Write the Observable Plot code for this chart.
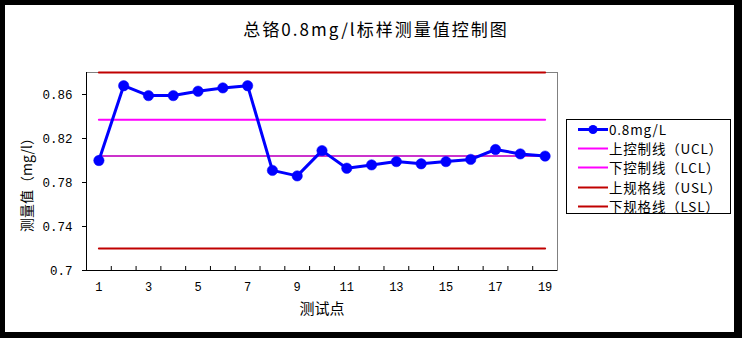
<!DOCTYPE html>
<html><head><meta charset="utf-8">
<script src="https://cdn.jsdelivr.net/npm/d3@7"></script>
<script src="https://cdn.jsdelivr.net/npm/@observablehq/plot@0.6"></script>
<style>
html,body{margin:0;padding:0;background:#000;width:742px;height:338px;overflow:hidden;font-family:"Noto Sans CJK SC",sans-serif;}
#panel{position:absolute;left:5px;top:5px;width:729px;height:327px;background:#fff;}
#title{position:absolute;left:0;top:17px;width:742px;text-align:center;font-size:17px;letter-spacing:2px;line-height:24px;color:#000;}
#title span{position:relative;left:5px;}
#chart{position:absolute;left:0;top:0;}
#legend{position:absolute;left:566px;top:119px;width:163px;height:93px;border:1px solid #000;background:#fff;font-size:13.5px;letter-spacing:0.8px;}
.row{position:absolute;left:0;height:19px;width:163px;}
.row svg{position:absolute;left:10px;top:0;}
.row span{position:absolute;left:42px;top:0;line-height:19px;white-space:nowrap;}
</style></head>
<body>
<div id="panel"></div>
<div id="chart"></div>
<div id="title"><span>总铬0.8mg/l标样测量值控制图</span></div>
<div id="legend"></div>
<script>
const points = d3.range(1, 20);
const values = [0.800, 0.868, 0.859, 0.859, 0.863, 0.866, 0.868, 0.791, 0.786, 0.809, 0.793, 0.796, 0.799, 0.797, 0.799, 0.801, 0.810, 0.806, 0.804];
const seriesName = "0.8mg/L";
const limitNames = ["上控制线（UCL）", "下控制线（LCL）", "上规格线（USL）", "下规格线（LSL）"];
const limitValues = [0.837, 0.804, 0.88, 0.72];
const limitColors = ["#ff00ff", "#cc33cc", "#c00000", "#c00000"];
const legendColors = ["#ff00ff", "#ff00ff", "#c00000", "#c00000"];
const seriesColor = "#0000ff";
const yTicks = [0.7, 0.74, 0.78, 0.82, 0.86];
const xLabels = [1, 3, 5, 7, 9, 11, 13, 15, 17, 19];
const xTickMarks = d3.range(1.5, 19.5, 1);

const data = points.map((p, i) => ({p, v: values[i]}));
const limitData = [];
limitValues.forEach((lv, i) => {
  limitData.push({p: points[0], v: lv, k: limitNames[i]});
  limitData.push({p: points[points.length - 1], v: lv, k: limitNames[i]});
});

const numFont = "'Liberation Mono', monospace";
const plot = Plot.plot({
  width: 742, height: 338,
  marginLeft: 86, marginRight: 185, marginTop: 72, marginBottom: 68,
  style: {background: "transparent", fontFamily: "'Noto Sans CJK SC', sans-serif", fontSize: "12px", color: "#000"},
  x: {type: "linear", domain: [0.5, 19.5]},
  y: {type: "linear", domain: [0.7, 0.88]},
  color: {domain: limitNames, range: limitColors},
  marks: [
    Plot.frame({stroke: "#808080"}),
    Plot.line(limitData, {x: "p", y: "v", z: "k", stroke: "k", strokeWidth: 2}),
    Plot.line(data, {x: "p", y: "v", stroke: seriesColor, strokeWidth: 3}),
    Plot.dot(data, {x: "p", y: "v", r: 5.2, fill: seriesColor, stroke: seriesColor, strokeWidth: 0.5}),
    Plot.ruleX([0.5], {stroke: "#000"}),
    Plot.ruleY([0.7], {stroke: "#000"}),
    Plot.axisY({ticks: yTicks, tickSize: 4, tickPadding: 10, tickFormat: d => String(+d.toFixed(2)), label: null, fontSize: 12.5, fontFamily: numFont}),
    Plot.axisX({ticks: xTickMarks, tickSize: -4, tickFormat: () => "", label: null}),
    Plot.axisX({ticks: xLabels, tickSize: 0, tickPadding: 12, tickFormat: d => String(d), label: null, fontSize: 12, fontFamily: numFont}),
    Plot.text(["测试点"], {frameAnchor: "bottom", dy: 43, fontSize: 15}),
    Plot.text(["测量值（mg/l）"], {frameAnchor: "left", textAnchor: "middle", dx: -59, dy: 10, rotate: -90, fontSize: 14})
  ]
});
document.getElementById("chart").appendChild(plot);

// legend
const legend = document.getElementById("legend");
const items = [{name: seriesName, color: seriesColor, dot: true}].concat(limitNames.map((n, i) => ({name: n, color: legendColors[i], dot: false})));
items.forEach((it, i) => {
  const row = document.createElement("div");
  row.className = "row";
  row.style.top = (0 + i * 19.2) + "px";
  const svg = d3.create("svg").attr("width", 32).attr("height", 19);
  svg.append("line").attr("x1", 1).attr("x2", 31).attr("y1", 9.5).attr("y2", 9.5).attr("stroke", it.color).attr("stroke-width", it.dot ? 3 : 2);
  if (it.dot) svg.append("circle").attr("cx", 16).attr("cy", 9.5).attr("r", 4.5).attr("fill", it.color);
  row.appendChild(svg.node());
  const s = document.createElement("span");
  s.textContent = it.name;
  row.appendChild(s);
  legend.appendChild(row);
});
</script>
</body></html>
